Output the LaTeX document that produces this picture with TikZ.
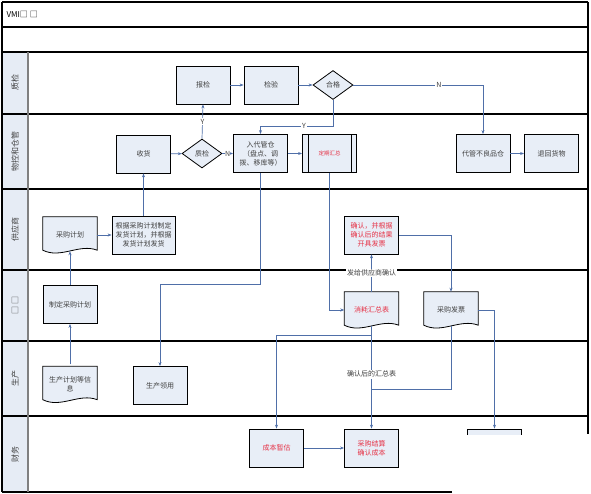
\documentclass[tikz,border=0pt]{standalone}
\usepackage{fontspec}
\setmainfont{Noto Sans CJK SC}
\usetikzlibrary{calc, shapes.geometric, arrows.meta, backgrounds}

\definecolor{boxfill}{RGB}{232,238,247}
\definecolor{lanefill}{RGB}{230,236,245}
\definecolor{flowblue}{RGB}{79,111,168}
\definecolor{alertred}{RGB}{230,50,70}
\definecolor{boxtext}{RGB}{64,64,64}

\tikzset{
    box/.style={draw=black, line width=0.8pt, fill=boxfill, minimum width=54pt, minimum height=38pt,
        align=center, inner sep=1pt, text=boxtext, font=\fontsize{7}{9}\selectfont},
    gate/.style={diamond, draw=black, line width=0.8pt, fill=boxfill, minimum width=40pt, minimum height=29pt,
        inner sep=0pt, text=boxtext, font=\fontsize{7}{9}\selectfont},
    doc/.style={minimum width=54pt, minimum height=36pt, align=center, inner sep=1pt,
        text=boxtext, font=\fontsize{7}{9}\selectfont},
    lanelabel/.style={rotate=90, text=boxtext, font=\fontsize{8}{9}\selectfont},
    flowlabel/.style={fill=white, inner sep=1pt, text=boxtext, font=\fontsize{7}{8}\selectfont},
    flowline/.style={draw=flowblue, line width=0.7pt},
    flow/.style={flowline, -{Stealth[length=4pt, width=3pt]}},
    frame/.style={line width=1.2pt}
}

\newcommand{\docoutline}[1]{\draw[line width=0.8pt, fill=boxfill] (#1.north west) -- (#1.north east)
    -- ([yshift=3pt]#1.south east) .. controls ([xshift=-18pt,yshift=10pt]#1.south east)
    and ([xshift=18pt,yshift=-6pt]#1.south west) .. ([yshift=3pt]#1.south west) -- cycle;}

\begin{document}
\begin{tikzpicture}[x=1pt, y=-1pt]
        \useasboundingbox (0,0) rectangle (591,494);

        \fill[lanefill] (2,52) rectangle (28,492);

        \foreach \y in {2,27,52,114,189,270,341,416}
            \draw[frame] (2,\y) -- (588,\y);

        \draw[frame] (2,492) -- (452,492);

        \draw[frame] (2,2) -- (2,492);

        \draw[frame] (588,2) -- (588,434);

        \draw[line width=1.5pt, gray] (28,52) -- (28,492);

        \node[anchor=west, font=\fontsize{8}{9}\selectfont] (title) at (3,14) {VMI□ □};

        \node[lanelabel] (laneqc) at (15,83) {质检};

        \node[lanelabel] (lanestore) at (15,151.5) {物控和仓管};

        \node[lanelabel] (lanesupplier) at (15,229.5) {供应商};

        \node[lanelabel] (lanebuy) at (15,305.5) {□ □};

        \node[lanelabel] (laneprod) at (15,378.5) {生产};

        \node[lanelabel] (lanefin) at (15,454) {财务};

        \node[box] (report) at (203,85) {报检};

        \node[box] (inspect) at (271,85) {检验};

        \node[gate] (pass) at (333,85) {合格};

        \node[box] (receive) at (143.5,154) {收货};

        \node[gate] (check) at (202,153.5) {质检};

        \node[box] (stock) at (260.5,153.5) {入代管仓\\（盘点、调\\拨、移库等）};

        \node[box, text=alertred, font=\fontsize{5.5}{7}\selectfont] (periodic) at (329.5,153.5) {定期汇总};

        \draw[line width=0.8pt] ($(periodic.north west)+(6,0)$) -- ($(periodic.south west)+(6,0)$);

        \draw[line width=0.8pt] ($(periodic.north east)+(-6,0)$) -- ($(periodic.south east)+(-6,0)$);

        \node[box] (badstock) at (483,153.5) {代管不良品仓};

        \node[box] (return) at (551.5,153.5) {退回货物};

        \node[doc] (plan) at (70,235) {采购计划};

        \node[box, minimum width=63pt] (ship) at (143.5,235) {根据采购计划制定\\发货计划，并根据\\发货计划发货};

        \node[box, text=alertred] (confirm) at (371.5,235) {确认，并根据\\确认后的结果\\开具发票};

        \node[box] (makeplan) at (70,304.5) {制定采购计划};

        \node[doc, text=alertred] (summary) at (371.5,310) {消耗汇总表};

        \node[doc] (invoice) at (451,310) {采购发票};

        \node[doc] (prodinfo) at (70,384.5) {生产计划等信\\息};

        \node[box] (useprod) at (160,385.5) {生产领用};

        \node[box, text=alertred] (estimate) at (276.5,448) {成本暂估};

        \node[box, text=alertred] (settle) at (371.5,448) {采购结算\\确认成本};

        \node[box] (finbox) at (494.5,448) {};

        \begin{scope}[on background layer]
            \foreach \d in {plan, summary, invoice, prodinfo}
                {\docoutline{\d}}
        \end{scope}

        \coordinate (join) at (371.5,389);

        \draw[flow] (report) -- (inspect);

        \draw[flow] (inspect) -- (pass);

        \draw[flow] (pass.east) -| node[flowlabel, pos=0.33] {N} (badstock.north);

        \draw[flow] (pass.south) -- ++(0,26) -| node[flowlabel, pos=0.2] {Y} (stock.north);

        \draw[flow] (check.north) -- node[flowlabel] {Y} (report.south);

        \draw[flow] (check.east) -- node[flowlabel, inner sep=0pt] {N} (stock.west);

        \draw[flow] (receive) -- (check);

        \draw[flow] (stock) -- (periodic);

        \draw[flow] (badstock) -- (return);

        \draw[flow] (periodic.south) |- (summary.west);

        \draw[flow] (stock.south) -- ++(0,111) -| (useprod.north);

        \draw[flow] (ship.north) -- (receive.south);

        \draw[flow] (plan.east) -- (ship.west);

        \draw[flow] (makeplan.north) -- ([yshift=2pt]plan.south);

        \draw[flow] ([yshift=2pt]prodinfo.north) -- (makeplan.south);

        \draw[flow] (summary.north) -- node[flowlabel] {发给供应商确认} (confirm.south);

        \draw[flow] (confirm.east) -| (invoice.north);

        \draw[flow] (invoice.east) -| (finbox.north);

        \draw[flow] ([yshift=2pt]summary.south) -- node[flowlabel, pos=0.47] {确认后的汇总表} (settle.north);

        \draw[flowline] ([yshift=2pt]invoice.south) |- (join);

        \draw[flow] ([yshift=2pt]summary.south) -- ++(0,9) -| (estimate.north);

        \draw[flow] (estimate) -- (settle);

        \fill[white] (453,435) rectangle (591,494);
    \end{tikzpicture}
\end{document}
